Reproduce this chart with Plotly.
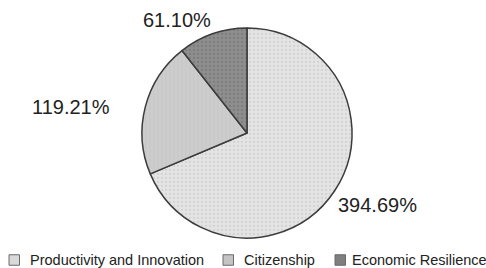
import plotly.graph_objects as go

categories = ["Productivity and Innovation", "Citizenship", "Economic Resilience"]
values = [394.69, 119.21, 61.10]

fill_colors = ["#e4e4e4", "#cdcdcd", "#8e8e8e"]
pattern_fg = ["#c2c2c2", "#bdbdbd", "#6a6a6a"]
pattern_shapes = [".", "|", "."]
swatch_colors = ["#d9d9d9", "#c4c4c4", "#7f7f7f"]

W, H = 486, 268
font_family = "Liberation Sans, Arial, Helvetica, sans-serif"

fig = go.Figure(go.Pie(
    labels=categories,
    values=values,
    sort=False,
    direction="clockwise",
    rotation=0,
    textinfo="none",
    marker=dict(
        colors=fill_colors,
        line=dict(color="#3c3c3c", width=1.5),
        pattern=dict(shape=pattern_shapes, fgcolor=pattern_fg, bgcolor=fill_colors,
                     fillmode="overlay", size=4, solidity=0.25),
    ),
    domain=dict(x=[142/W, 352/W], y=[(H-238)/H, (H-28)/H]),
    hoverinfo="label+value",
    showlegend=False,
))

# value labels placed outside the slices
label_pos = [(377.5, 205), (71, 107), (176.5, 20)]
for v, (lx, ly) in zip(values, label_pos):
    fig.add_annotation(xref="paper", yref="paper", x=lx/W, y=(H-ly)/H,
                       xanchor="center", yanchor="middle", showarrow=False,
                       text=f"{v:.2f}%",
                       font=dict(family=font_family, size=20, color="#222222"))

# manual legend (single row at the bottom)
swatch_x = [9, 223, 335]
text_x = [28, 242, 350]
legend_y = 260
sw = 10.5
for name, sx, tx, col in zip(categories, swatch_x, text_x, swatch_colors):
    fig.add_shape(type="rect", xref="paper", yref="paper",
                  x0=sx/W, x1=(sx+sw)/W,
                  y0=(H-legend_y-sw/2)/H, y1=(H-legend_y+sw/2)/H,
                  fillcolor=col, line=dict(color="#6a6a6a", width=1))
    fig.add_annotation(xref="paper", yref="paper", x=tx/W, y=(H-legend_y)/H,
                       xanchor="left", yanchor="middle", showarrow=False,
                       text=name, font=dict(family=font_family, size=14.5, color="#222222"))

fig.update_layout(
    width=W, height=H,
    margin=dict(l=0, r=0, t=0, b=0),
    paper_bgcolor="white",
    plot_bgcolor="white",
    showlegend=False,
)

fig.write_html("out.html",
               config={"displayModeBar": False},
               post_script="document.body.style.margin='0';document.body.style.padding='0';document.body.style.overflow='hidden';")
